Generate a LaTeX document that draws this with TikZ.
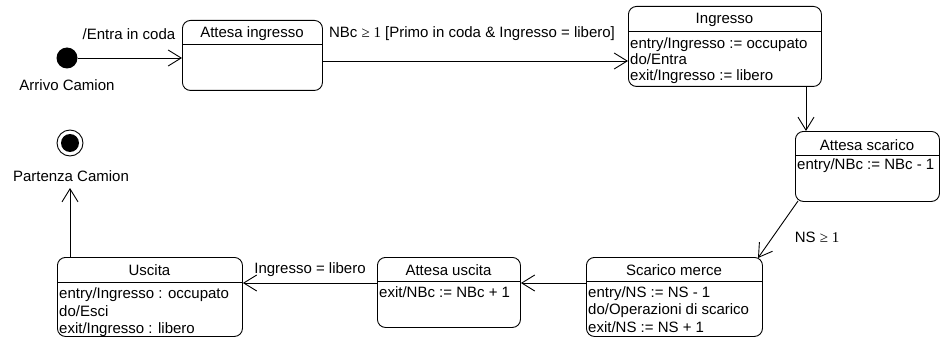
\documentclass[tikz,border=0pt]{standalone}
\usepackage{fontspec}
\setmainfont{Liberation Sans}
\newfontfamily\seriffont{Liberation Serif}
\usetikzlibrary{arrows.meta}
\tikzset{
  statebox/.style={draw, line width=0.9pt, rounded corners=8pt, anchor=north west, inner sep=0pt},
  sepline/.style={line width=0.9pt},
  title/.style={inner sep=0pt, text height=13pt, text depth=1pt},
  bodyline/.style={inner sep=0pt, anchor=west, text height=13pt, text depth=1pt},
  lbl/.style={inner sep=0pt, text height=13pt, text depth=1pt},
  trans/.style={line width=0.9pt, -{Straight Barb[length=13pt,width=16pt,line width=0.9pt]}},
}
\begin{document}
\begin{tikzpicture}[x=1pt,y=-1pt, font=\fontsize{15}{17}\selectfont]
\useasboundingbox (0,0) rectangle (940,337);

% initial state
\node[circle, fill=black, minimum size=21pt, inner sep=0pt] (init) at (67,58) {};
\node[lbl] (initlbl) at (67,85) {Arrivo Camion};

% final state
\node[circle, draw, line width=0.9pt, minimum size=26pt, inner sep=0pt] (final) at (70,143) {};
\node[circle, fill=black, minimum size=18pt, inner sep=0pt] (finalin) at (70,143) {};
\node[lbl] (finallbl) at (71,175) {Partenza Camion};

% Attesa ingresso
\node[statebox, minimum width=140pt, minimum height=70pt] (ai) at (182,20) {};
\draw[sepline] (ai.north west) ++(0,24) -- ++(140,0);
\node[title] (ait) at (252,32) {Attesa ingresso};

% Ingresso
\node[statebox, minimum width=193pt, minimum height=80pt] (ing) at (628,6) {};
\draw[sepline] (ing.north west) ++(0,25) -- ++(193,0);
\node[title] (ingt) at (724.5,18) {Ingresso};
\node[bodyline] (ing1) at (630,43) {entry/Ingresso := occupato};
\node[bodyline] (ing2) at (630,59) {do/Entra};
\node[bodyline] (ing3) at (630,75) {exit/Ingresso := libero};

% Attesa scarico
\node[statebox, minimum width=144pt, minimum height=70pt] (as) at (795,131) {};
\draw[sepline] (as.north west) ++(0,24) -- ++(144,0);
\node[title] (ast) at (867,144) {Attesa scarico};
\node[bodyline] (as1) at (797,163) {entry/NBc := NBc - 1};

% Scarico merce
\node[statebox, minimum width=176pt, minimum height=79pt] (sm) at (586,257) {};
\draw[sepline] (sm.north west) ++(0,24) -- ++(176,0);
\node[title] (smt) at (674,269) {Scarico merce};
\node[bodyline] (sm1) at (588,291) {entry/NS := NS - 1};
\node[bodyline] (sm2) at (588,308) {do/Operazioni di scarico};
\node[bodyline] (sm3) at (588,326) {exit/NS := NS + 1};

% Attesa uscita
\node[statebox, minimum width=143pt, minimum height=70pt] (au) at (377,257) {};
\draw[sepline] (au.north west) ++(0,24) -- ++(143,0);
\node[title] (aut) at (448.5,269) {Attesa uscita};
\node[bodyline] (au1) at (379,291) {exit/NBc := NBc + 1};

% Uscita
\node[statebox, minimum width=185pt, minimum height=79pt] (us) at (57,257) {};
\draw[sepline] (us.north west) ++(0,25) -- ++(185,0);
\node[title] (ust) at (149.5,269) {Uscita};
\node[bodyline] (us1) at (59,292) {entry/Ingresso : occupato};
\node[bodyline] (us2) at (59,310) {do/Esci};
\node[bodyline] (us3) at (59,327) {exit/Ingresso : libero};

% transitions
\draw[trans] (init.east) -- (ai.west |- init.east);
\node[lbl] (t1) at (129,34) {/Entra in coda};

\draw[trans] (ai.east |- 0,61) -- (ing.west |- 0,61);
\node[lbl] (t2) at (472,32) {NBc {\seriffont ≥ 1} [Primo in coda \& Ingresso = libero]};

\draw[trans] (ing.south -| 806,0) -- (as.north -| 806,0);

\draw[trans] (798,201) -- (758,258);
\node[lbl] (t4) at (817,236) {NS {\seriffont ≥ 1}};

\draw[trans] (sm.west |- 0,283) -- (au.east |- 0,283);

\draw[trans] (au.west |- 0,283) -- (us.east |- 0,283);
\node[lbl] (t6) at (310,267) {Ingresso = libero};

\draw[trans] (us.north -| 70,0) -- (70,188);
\end{tikzpicture}
\end{document}
